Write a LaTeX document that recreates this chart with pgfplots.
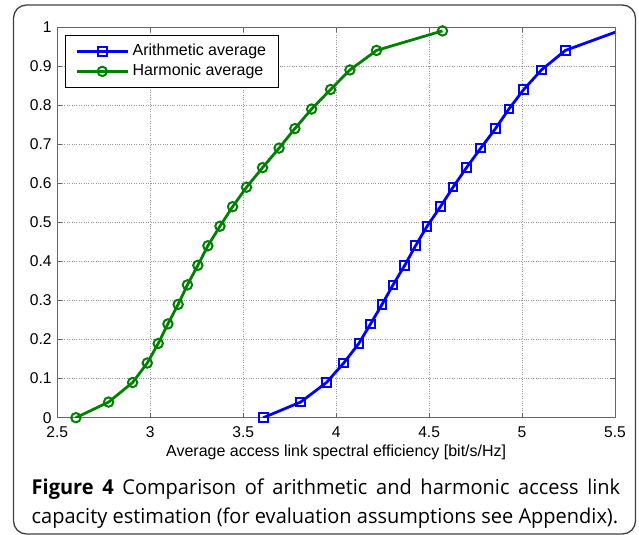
\documentclass[border=0pt]{standalone}
\usepackage{fontspec}
\setmainfont{Liberation Sans}
\newfontfamily\capfont[FakeStretch=0.975]{Open Sans}
\usepackage{pgfplots}
\pgfplotsset{compat=1.18}
\definecolor{mblue}{RGB}{0,0,255}
\definecolor{mgreen}{RGB}{0,128,0}
\begin{document}
\begin{tikzpicture}[x=1bp,y=1bp]
\useasboundingbox (0,0) rectangle (639,535);
\draw[black!75, line width=1.3bp, rounded corners=13bp] (13.5,1) rectangle (635.5,530);
\begin{axis}[
  at={(57.3bp,117.3bp)}, anchor=south west,
  scale only axis, width=557.7bp, height=390.7bp,
  xmin=2.5, xmax=5.5, ymin=0, ymax=1,
  xtick={2.5,3,3.5,4,4.5,5,5.5},
  ytick={0,0.1,0.2,0.3,0.4,0.5,0.6,0.7,0.8,0.9,1},
  /pgf/number format/assume math mode=true,
  tick label style={font=\fontsize{15.6bp}{18bp}\selectfont, black},
  x tick label style={inner sep=0pt, yshift=-8.5bp},
  y tick label style={inner sep=0pt, xshift=-5.5bp},
  label style={font=\fontsize{16bp}{18bp}\selectfont},
  xlabel={Average access link spectral efficiency [bit/s/Hz]},
  x label style={at={(axis description cs:0.5,-0.09)}, anchor=center},
  axis line style={black!60, line width=0.8bp},
  tick style={black!60, line width=0.8bp},
  tick align=inside, major tick length=5bp,
  grid=major,
  major grid style={black!40, dotted, line width=0.6bp},
  legend style={at={(axis description cs:0.0138,0.9795)}, anchor=north west,
    font=\fontsize{16bp}{18bp}\selectfont, draw=black, line width=0.8bp,
    inner xsep=10bp, inner ysep=6bp, row sep=0bp,
    nodes={text height=12bp, text depth=4bp, inner ysep=2bp}},
  legend cell align=left,
  legend image code/.code={\draw[mark repeat=2,mark phase=2] plot coordinates {(0bp,0bp) (25.5bp,0bp) (51bp,0bp)}; \path (52.5bp,0bp);},
]
\addplot[mblue, line width=2.8bp, mark=square, mark size=4.3bp, mark options={line width=2bp, solid}] coordinates {
(3.608,0) (3.809,0.04) (3.948,0.09) (4.041,0.14) (4.122,0.19) (4.185,0.24)
(4.247,0.29) (4.306,0.34) (4.369,0.39) (4.427,0.44) (4.489,0.49) (4.561,0.54)
(4.629,0.59) (4.701,0.64) (4.778,0.69) (4.857,0.74) (4.929,0.79) (5.009,0.84)
(5.104,0.89) (5.233,0.94) (5.52,0.99)
};
\addlegendentry{Arithmetic average}
\addplot[mgreen, line width=2.8bp, mark=o, mark size=4.7bp, mark options={line width=2bp, solid}] coordinates {
(2.600,0) (2.776,0.04) (2.905,0.09) (2.984,0.14) (3.043,0.19) (3.095,0.24)
(3.150,0.29) (3.200,0.34) (3.256,0.39) (3.310,0.44) (3.375,0.49) (3.443,0.54)
(3.518,0.59) (3.604,0.64) (3.693,0.69) (3.778,0.74) (3.868,0.79) (3.970,0.84)
(4.074,0.89) (4.217,0.94) (4.572,0.99)
};
\addlegendentry{Harmonic average}
\end{axis}
\node[anchor=base west, inner sep=0, font=\capfont\fontsize{20.5bp}{26bp}\selectfont] at (31.5,40)
  {\makebox[588.5bp][s]{\textbf{Figure 4} Comparison of arithmetic and harmonic access link}};
\node[anchor=base west, inner sep=0, font=\capfont\fontsize{20.5bp}{26bp}\selectfont] at (31.5,11.5)
  {capacity estimation (for evaluation assumptions see Appendix).};
\end{tikzpicture}
\end{document}
